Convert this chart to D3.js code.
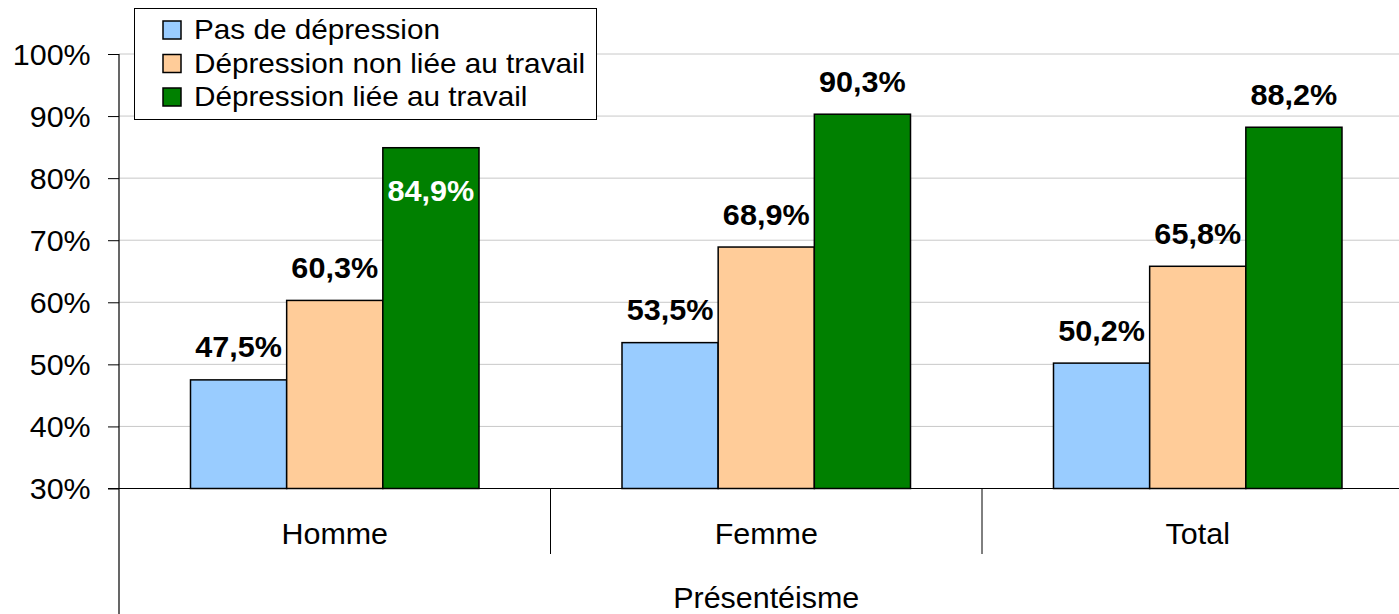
<!DOCTYPE html>
<html>
<head>
<meta charset="utf-8">
<script src="https://cdn.jsdelivr.net/npm/d3@7"></script>
<style>
  html, body { margin: 0; padding: 0; background: #fff; }
  svg { display: block; font-family: "Liberation Sans", Arial, sans-serif; }
</style>
</head>
<body>
<svg id="chart" width="1399" height="614"></svg>
<script>
// Présentéisme selon la dépression, par sexe
const categories = ["Homme", "Femme", "Total"];
const seriesNames = ["Pas de dépression", "Dépression non liée au travail", "Dépression liée au travail"];
const pasDeDepression = [47.5, 53.5, 50.2];
const depressionNonLiee = [60.3, 68.9, 65.8];
const depressionLiee = [84.9, 90.3, 88.2];
const yTickValues = [30, 40, 50, 60, 70, 80, 90, 100];
const axisTitle = "Présentéisme";

const seriesValues = [pasDeDepression, depressionNonLiee, depressionLiee];
const colors = ["#99ccff", "#ffcc99", "#008000"];

const svg = d3.select("#chart");
const W = 1399, H = 614;

const x0 = 119, x1 = 1413.5;
const yTop = 54, yBottom = 488.5;
const stretch = 1.05;        // slightly wide lettering
const legendStretch = 1.1;

const y = d3.scaleLinear().domain([30, 100]).range([yBottom, yTop]);
const xCat = d3.scaleBand().domain(categories).range([x0, x1]).paddingInner(0).paddingOuter(0);
const bw = xCat.bandwidth();
const xSeries = d3.scaleBand().domain(seriesNames)
  .range([bw * 0.1657, bw * (1 - 0.1657)]).paddingInner(0).paddingOuter(0);

// text placed through a transform so it can be widened a little
function placeText(sel, x, yy, sx) {
  return sel.attr("transform", `translate(${x},${yy}) scale(${sx},1)`);
}

// gridlines
svg.append("g").selectAll("line").data(yTickValues.filter(v => v > 30)).join("line")
  .attr("x1", x0).attr("x2", x1)
  .attr("y1", d => y(d)).attr("y2", d => y(d))
  .attr("stroke", "#c8c8c8").attr("stroke-width", 1);

// y axis
const yAxis = d3.axisLeft(y).tickValues(yTickValues).tickSize(11).tickPadding(16)
  .tickFormat(d => d + "%");
const gy = svg.append("g").attr("transform", `translate(${x0},0)`).call(yAxis);
gy.select(".domain").remove();
gy.selectAll(".tick line").attr("stroke", "#000").attr("stroke-width", 1);
gy.selectAll(".tick text").attr("font-size", 29).attr("fill", "#000")
  .attr("font-family", "Liberation Sans, Arial, sans-serif").attr("dy", "0.36em")
  .attr("transform", `scale(${stretch},1)`);

svg.append("line").attr("x1", x0).attr("x2", x0).attr("y1", yTop).attr("y2", H)
  .attr("stroke", "#000").attr("stroke-width", 1.2);

// bars
const data = [];
categories.forEach((c, i) => {
  seriesNames.forEach((s, j) => data.push({ cat: c, series: s, j, value: seriesValues[j][i] }));
});

svg.append("g").selectAll("rect").data(data).join("rect")
  .attr("x", d => xCat(d.cat) + xSeries(d.series))
  .attr("y", d => y(d.value))
  .attr("width", xSeries.bandwidth())
  .attr("height", d => y(30) - y(d.value))
  .attr("fill", d => colors[d.j])
  .attr("stroke", "#000").attr("stroke-width", 1.5);

// baseline and category separators
svg.append("line").attr("x1", 108).attr("x2", x1).attr("y1", yBottom).attr("y2", yBottom)
  .attr("stroke", "#000").attr("stroke-width", 1.2);
svg.append("g").selectAll("line").data(categories.slice(1)).join("line")
  .attr("x1", d => xCat(d)).attr("x2", d => xCat(d))
  .attr("y1", yBottom).attr("y2", 554)
  .attr("stroke", "#000").attr("stroke-width", 1);

// category labels
svg.append("g").selectAll("text").data(categories).join("text")
  .each(function (d) { placeText(d3.select(this), xCat(d) + bw / 2, 544, stretch); })
  .attr("text-anchor", "middle").attr("font-size", 29).attr("fill", "#000")
  .text(d => d);

placeText(svg.append("text"), (x0 + x1) / 2, 607.5, stretch)
  .attr("text-anchor", "middle").attr("font-size", 29).attr("fill", "#000")
  .text(axisTitle);

// legend
const legend = { x: 134.5, y: 8.5, w: 462, h: 111 };
const lg = svg.append("g");
lg.append("rect").attr("x", legend.x).attr("y", legend.y).attr("width", legend.w).attr("height", legend.h)
  .attr("fill", "#fff").attr("stroke", "#000").attr("stroke-width", 1);
seriesNames.forEach((s, j) => {
  const cy = 30 + j * 33.5;
  lg.append("rect").attr("x", 163).attr("y", cy - 9).attr("width", 18).attr("height", 18)
    .attr("fill", colors[j]).attr("stroke", "#000").attr("stroke-width", 1.5);
  placeText(lg.append("text"), 194, cy + 9, legendStretch).attr("font-size", 27)
    .attr("fill", "#000").text(s);
});

// value labels: above the bar, or inside it where the legend would cover them
const fmt = v => v.toFixed(1).replace(".", ",") + "%";
svg.append("g").selectAll("text").data(data).join("text")
  .each(function (d) {
    const cx = xCat(d.cat) + xSeries(d.series) + xSeries.bandwidth() / 2;
    const top = y(d.value);
    const aboveBaseline = top - 22.5;
    const halfW = 45;
    const hitsLegend = (aboveBaseline - 22) < legend.y + legend.h &&
      cx + halfW > legend.x && cx - halfW < legend.x + legend.w;
    placeText(d3.select(this), cx, hitsLegend ? top + 53 : aboveBaseline, 1.02)
      .attr("fill", hitsLegend ? "#fff" : "#000");
  })
  .attr("text-anchor", "middle").attr("font-size", 30).attr("font-weight", "bold")
  .text(d => fmt(d.value));
</script>
</body>
</html>
